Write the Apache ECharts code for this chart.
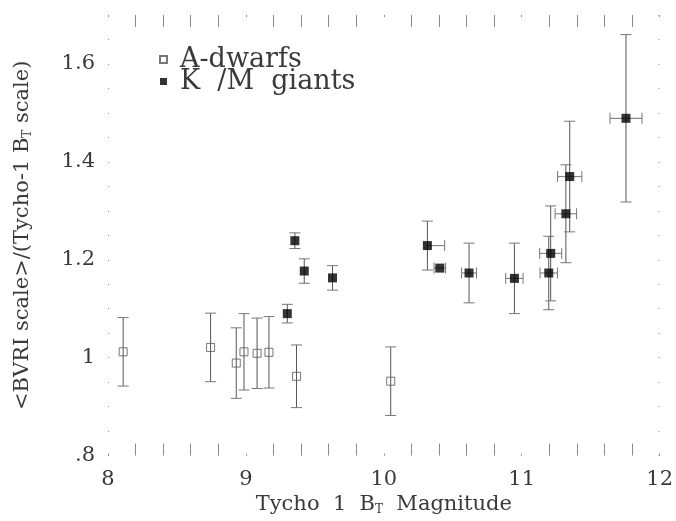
<!DOCTYPE html>
<html>
<head>
<meta charset="utf-8">
<script src="https://cdn.jsdelivr.net/npm/echarts@6/dist/echarts.min.js"></script>
<style>
  html, body { margin: 0; padding: 0; background: #fff; }
  #chart { width: 676px; height: 521px; }
</style>
</head>
<body>
<div id="chart"></div>
<script>
// A-dwarfs: Tycho-1 B_T magnitude, scale ratio, symmetric error in ratio
const magA   = [8.11, 8.744, 8.93, 8.986, 9.081, 9.167, 9.367, 10.05];
const ratioA = [1.012, 1.021, 0.989, 1.012, 1.009, 1.011, 0.962, 0.952];
const errA   = [0.070, 0.070, 0.072, 0.078, 0.072, 0.073, 0.064, 0.070];

// K/M giants: magnitude, ratio, ratio error, magnitude error (low / high side)
const magKM    = [9.30, 9.355, 9.423, 9.628, 10.316, 10.406, 10.618, 10.947, 11.196, 11.21, 11.32, 11.348, 11.756];
const ratioKM  = [1.090, 1.239, 1.177, 1.163, 1.229, 1.183, 1.173, 1.162, 1.173, 1.213, 1.294, 1.370, 1.489];
const errYKM   = [0.019, 0.016, 0.025, 0.025, 0.050, 0.000, 0.061, 0.072, 0.075, 0.097, 0.100, 0.113, 0.171];
const errXLoKM = [0, 0, 0, 0, 0.000, 0.042, 0.054, 0.063, 0.063, 0.080, 0.078, 0.088, 0.116];
const errXHiKM = [0, 0, 0, 0, 0.125, 0.042, 0.054, 0.063, 0.063, 0.080, 0.078, 0.088, 0.116];

// Axis tick labels
const xTickValues = [8, 9, 10, 11, 12];
const xTickLabels = ['8', '9', '10', '11', '12'];
const yTickValues = [0.8, 1.0, 1.2, 1.4, 1.6];
const yTickLabels = ['.8', '1', '1.2', '1.4', '1.6'];

const seriesNames = ['A-dwarfs', 'K  /M  giants'];

function lookupLabel(values, labels, v) {
  for (let i = 0; i < values.length; i++) {
    if (Math.abs(values[i] - v) < 1e-6) return labels[i];
  }
  return '';
}

// rows: [x, y, yLow, yHigh, xLow, xHigh]
const errRowsA = magA.map((m, i) => [m, ratioA[i], errA[i], errA[i], 0, 0]);
const errRowsKM = magKM.map((m, i) => [m, ratioKM[i], errYKM[i], errYKM[i], errXLoKM[i], errXHiKM[i]]);

const FONT = 'DejaVu Serif';
const TEXT = '#3a3a3a';
const TICK = '#8a8a8a';
const CAP = 5.5;

function renderErrorBar(params, api) {
  const x = api.value(0), y = api.value(1);
  const yLo = api.value(2), yHi = api.value(3);
  const xLo = api.value(4), xHi = api.value(5);
  const children = [];
  const stem = { stroke: '#555', lineWidth: 1 };
  const cap = { stroke: '#777', lineWidth: 1 };
  const c = api.coord([x, y]);
  if (yHi > 0 || yLo > 0) {
    const top = api.coord([x, y + yHi]);
    const bot = api.coord([x, y - yLo]);
    children.push({ type: 'line', shape: { x1: c[0], y1: top[1], x2: c[0], y2: bot[1] }, style: stem });
    if (yHi > 0) children.push({ type: 'line', shape: { x1: c[0] - CAP, y1: top[1], x2: c[0] + CAP, y2: top[1] }, style: cap });
    if (yLo > 0) children.push({ type: 'line', shape: { x1: c[0] - CAP, y1: bot[1], x2: c[0] + CAP, y2: bot[1] }, style: cap });
  }
  if (xHi > 0 || xLo > 0) {
    const l = api.coord([x - xLo, y]);
    const r = api.coord([x + xHi, y]);
    children.push({ type: 'line', shape: { x1: l[0], y1: c[1], x2: r[0], y2: c[1] }, style: { stroke: '#888', lineWidth: 1.2 } });
    if (xLo > 0) children.push({ type: 'line', shape: { x1: l[0], y1: c[1] - CAP, x2: l[0], y2: c[1] + CAP }, style: cap });
    if (xHi > 0) children.push({ type: 'line', shape: { x1: r[0], y1: c[1] - CAP, x2: r[0], y2: c[1] + CAP }, style: cap });
  }
  return { type: 'group', children: children };
}

function xAxisCfg(position, showLabels) {
  return {
    type: 'value', position: position, min: 8, max: 12, interval: 1,
    axisLine: { show: false },
    splitLine: { show: false },
    axisTick: { show: true, inside: true, length: 2, lineStyle: { color: TICK } },
    minorTick: { show: true, splitNumber: 5, length: 12, lineStyle: { color: TICK } },
    axisLabel: {
      show: showLabels, margin: 13, color: TEXT, fontFamily: FONT, fontSize: 21,
      formatter: v => lookupLabel(xTickValues, xTickLabels, v)
    }
  };
}

function yAxisCfg(position, showLabels) {
  return {
    type: 'value', position: position, min: 0.8, max: 1.7, interval: 0.2,
    axisLine: { show: false },
    splitLine: { show: false },
    axisTick: { show: true, inside: true, length: 1, lineStyle: { color: TICK } },
    minorTick: { show: true, splitNumber: 4, length: 1, lineStyle: { color: TICK } },
    axisLabel: {
      show: showLabels, margin: 13, color: TEXT, fontFamily: FONT, fontSize: 21,
      showMaxLabel: false,
      formatter: v => lookupLabel(yTickValues, yTickLabels, v)
    }
  };
}

const xBottom = xAxisCfg('bottom', true);
xBottom.name = 'Tycho  1  B{sub|T}  Magnitude';
xBottom.nameLocation = 'middle';
xBottom.nameGap = 36;
xBottom.nameTextStyle = {
  color: TEXT, fontFamily: FONT, fontSize: 21,
  rich: { sub: { fontSize: 12, fontFamily: FONT, color: TEXT, verticalAlign: 'bottom', padding: [10, 0, 0, 0] } }
};

const yLeft = yAxisCfg('left', true);
yLeft.name = '<BVRI scale>/(Tycho-1 B{sub|T} scale)';
yLeft.nameLocation = 'middle';
yLeft.nameGap = 74;
yLeft.nameTextStyle = {
  color: TEXT, fontFamily: FONT, fontSize: 21,
  rich: { sub: { fontSize: 12, fontFamily: FONT, color: TEXT, verticalAlign: 'bottom', padding: [10, 0, 0, 0] } }
};

const chart = echarts.init(document.getElementById('chart'), null, { renderer: 'canvas' });
chart.setOption({
  animation: false,
  backgroundColor: '#fff',
  grid: { left: 108, right: 16, top: 15, bottom: 56, containLabel: false },
  legend: {
    data: seriesNames,
    orient: 'vertical',
    left: 154, top: 41,
    itemWidth: 7, itemHeight: 7, itemGap: -5,
    textStyle: { color: TEXT, fontFamily: FONT, fontSize: 27, padding: [0, 0, 0, 8] }
  },
  xAxis: [xBottom, xAxisCfg('top', false)],
  yAxis: [yLeft, yAxisCfg('right', false)],
  series: [
    {
      name: 'A-dwarf errors', type: 'custom', silent: true, z: 2,
      renderItem: renderErrorBar, encode: { x: 0, y: 1 }, data: errRowsA
    },
    {
      name: 'K/M errors', type: 'custom', silent: true, z: 2,
      renderItem: renderErrorBar, encode: { x: 0, y: 1 }, data: errRowsKM
    },
    {
      name: seriesNames[0], type: 'scatter', z: 3,
      symbol: 'rect', symbolSize: 8,
      itemStyle: { color: 'rgba(0,0,0,0)', borderColor: '#555', borderWidth: 1 },
      data: magA.map((m, i) => [m, ratioA[i]])
    },
    {
      name: seriesNames[1], type: 'scatter', z: 3,
      symbol: 'rect', symbolSize: 9,
      itemStyle: { color: '#000' },
      data: magKM.map((m, i) => [m, ratioKM[i]])
    }
  ]
});
</script>
</body>
</html>
